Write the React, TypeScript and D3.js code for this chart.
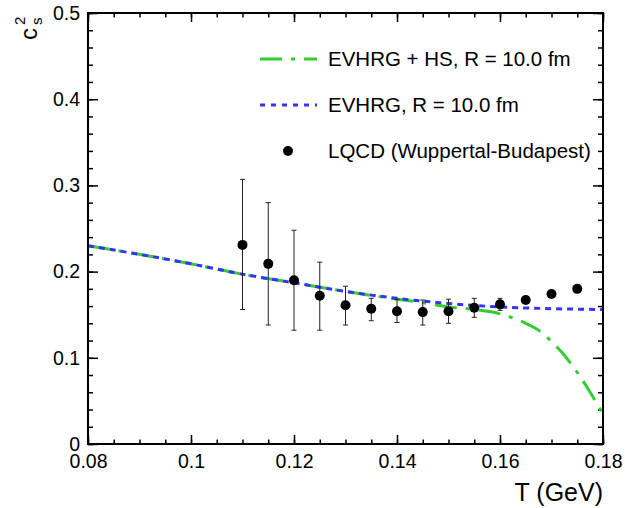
import {useEffect, useRef} from "react";
import * as d3 from "d3";

// LQCD (Wuppertal-Budapest) points
const lqcdT = [0.11, 0.115, 0.12, 0.125, 0.13, 0.135, 0.14, 0.145, 0.15, 0.155, 0.16, 0.165, 0.17, 0.175];
const lqcdCs2 = [0.231, 0.209, 0.19, 0.172, 0.161, 0.157, 0.154, 0.153, 0.154, 0.158, 0.162, 0.167, 0.174, 0.18];
const lqcdHigh = [0.307, 0.28, 0.248, 0.211, 0.183, 0.169, 0.168, 0.167, 0.168, 0.169, 0.169, 0.17, 0.176, 0.181];
const lqcdLow = [0.156, 0.138, 0.132, 0.132, 0.138, 0.143, 0.141, 0.138, 0.14, 0.147, 0.155, 0.164, 0.172, 0.179];

// EVHRG, R = 10.0 fm
const evhrgT = [0.08, 0.09, 0.1, 0.11, 0.12, 0.13, 0.14, 0.15, 0.16, 0.17, 0.18];
const evhrgCs2 = [0.23, 0.22, 0.209, 0.197, 0.187, 0.177, 0.169, 0.163, 0.159, 0.157, 0.156];

// EVHRG + HS, R = 10.0 fm
const hsT = [0.08, 0.09, 0.1, 0.11, 0.12, 0.13, 0.14, 0.145, 0.15, 0.155, 0.16, 0.165, 0.1675, 0.17, 0.1725, 0.175, 0.1775, 0.18];
const hsCs2 = [0.23, 0.22, 0.209, 0.197, 0.187, 0.177, 0.168, 0.164, 0.159, 0.156, 0.151, 0.14, 0.132, 0.119, 0.103, 0.083, 0.06, 0.035];

const xTicks = [0.08, 0.1, 0.12, 0.14, 0.16, 0.18];
const xTickLabels = ["0.08", "0.1", "0.12", "0.14", "0.16", "0.18"];
const yTicks = [0, 0.1, 0.2, 0.3, 0.4, 0.5];
const yTickLabels = ["0", "0.1", "0.2", "0.3", "0.4", "0.5"];

const legendLabels = ["EVHRG + HS, R = 10.0 fm", "EVHRG, R = 10.0 fm", "LQCD (Wuppertal-Budapest)"];

const GREEN = "#33cc33";
const BLUE = "#3333ff";
const FONT = "'Liberation Sans', Arial, Helvetica, sans-serif";

export default function App() {
    const chartRef = useRef<SVGSVGElement>(null);

    useEffect(() => {
        if (!chartRef.current) return;

        const width = 625;
        const height = 508;
        const left = 88, right = 603, top = 13, bottom = 444;

        const svg = d3.select(chartRef.current);
        svg.selectAll("*").remove();
        svg.attr("viewBox", [0, 0, width, height])
            .attr("width", width)
            .attr("height", height)
            .style("font-family", FONT);

        svg.append("rect").attr("width", width).attr("height", height).attr("fill", "white");

        const x = d3.scaleLinear().domain([0.08, 0.18]).range([left, right]);
        const y = d3.scaleLinear().domain([0, 0.5]).range([bottom, top]);

        const xMinor = d3.range(0, 21).map(i => 0.08 + i * 0.005);
        const yMinor = d3.range(0, 26).map(i => i * 0.02);

        // ticks pointing into the frame, on all four sides
        const tickStyle = (g: d3.Selection<SVGGElement, unknown, null, undefined>) => {
            g.select(".domain").remove();
            g.selectAll("line").attr("stroke", "black").attr("stroke-width", 1.5);
            g.selectAll("text").attr("font-size", 19.5).attr("fill", "black").style("font-family", FONT);
        };

        svg.append("g").attr("transform", `translate(0,${bottom})`)
            .call(d3.axisBottom(x).tickValues(xTicks).tickSize(-9).tickPadding(10)
                .tickFormat((_, i) => xTickLabels[i]))
            .call(tickStyle);
        svg.append("g").attr("transform", `translate(0,${bottom})`)
            .call(d3.axisBottom(x).tickValues(xMinor).tickSize(-4.5).tickFormat(() => ""))
            .call(tickStyle);
        svg.append("g").attr("transform", `translate(0,${top})`)
            .call(d3.axisTop(x).tickValues(xTicks).tickSize(-9).tickFormat(() => ""))
            .call(tickStyle);
        svg.append("g").attr("transform", `translate(0,${top})`)
            .call(d3.axisTop(x).tickValues(xMinor).tickSize(-4.5).tickFormat(() => ""))
            .call(tickStyle);

        svg.append("g").attr("transform", `translate(${left},0)`)
            .call(d3.axisLeft(y).tickValues(yTicks).tickSize(-10).tickPadding(8)
                .tickFormat((_, i) => yTickLabels[i]))
            .call(tickStyle);
        svg.append("g").attr("transform", `translate(${left},0)`)
            .call(d3.axisLeft(y).tickValues(yMinor).tickSize(-5).tickFormat(() => ""))
            .call(tickStyle);
        svg.append("g").attr("transform", `translate(${right},0)`)
            .call(d3.axisRight(y).tickValues(yTicks).tickSize(-10).tickFormat(() => ""))
            .call(tickStyle);
        svg.append("g").attr("transform", `translate(${right},0)`)
            .call(d3.axisRight(y).tickValues(yMinor).tickSize(-5).tickFormat(() => ""))
            .call(tickStyle);

        // clip curves to the frame
        svg.append("defs").append("clipPath").attr("id", "frame-clip")
            .append("rect").attr("x", left).attr("y", top)
            .attr("width", right - left).attr("height", bottom - top);

        const line = d3.line<[number, number]>()
            .x(d => x(d[0]))
            .y(d => y(d[1]))
            .curve(d3.curveMonotoneX);

        const curves = svg.append("g").attr("clip-path", "url(#frame-clip)");

        curves.append("path")
            .attr("d", line(hsT.map((t, i) => [t, hsCs2[i]])))
            .attr("fill", "none")
            .attr("stroke", GREEN)
            .attr("stroke-width", 3)
            .attr("stroke-dasharray", "22,9,4,9");

        curves.append("path")
            .attr("d", line(evhrgT.map((t, i) => [t, evhrgCs2[i]])))
            .attr("fill", "none")
            .attr("stroke", BLUE)
            .attr("stroke-width", 3)
            .attr("stroke-dasharray", "6,5");

        // LQCD error bars and markers
        const pts = svg.append("g");
        lqcdT.forEach((t, i) => {
            const cx = x(t);
            pts.append("line")
                .attr("x1", cx).attr("x2", cx)
                .attr("y1", y(lqcdLow[i])).attr("y2", y(lqcdHigh[i]))
                .attr("stroke", "#222").attr("stroke-width", 1);
            [lqcdLow[i], lqcdHigh[i]].forEach(v => {
                pts.append("line")
                    .attr("x1", cx - 2.5).attr("x2", cx + 2.5)
                    .attr("y1", y(v)).attr("y2", y(v))
                    .attr("stroke", "#222").attr("stroke-width", 1);
            });
            pts.append("circle").attr("cx", cx).attr("cy", y(lqcdCs2[i])).attr("r", 5).attr("fill", "black");
        });

        // frame
        svg.append("rect")
            .attr("x", left).attr("y", top)
            .attr("width", right - left).attr("height", bottom - top)
            .attr("fill", "none").attr("stroke", "black").attr("stroke-width", 2);

        // legend
        const legend = svg.append("g");
        const rowY = [59, 105, 151];
        legend.append("line").attr("x1", 260).attr("x2", 317).attr("y1", rowY[0]).attr("y2", rowY[0])
            .attr("stroke", GREEN).attr("stroke-width", 3).attr("stroke-dasharray", "22,9,4,9");
        legend.append("line").attr("x1", 260).attr("x2", 317).attr("y1", rowY[1]).attr("y2", rowY[1])
            .attr("stroke", BLUE).attr("stroke-width", 3).attr("stroke-dasharray", "5,6");
        legend.append("circle").attr("cx", 288).attr("cy", rowY[2]).attr("r", 5).attr("fill", "black");
        legendLabels.forEach((label, i) => {
            legend.append("text")
                .attr("x", 328).attr("y", rowY[i])
                .attr("dy", "0.36em")
                .attr("font-size", 20.5)
                .text(label);
        });

        // axis titles
        svg.append("text")
            .attr("x", right).attr("y", 501)
            .attr("text-anchor", "end")
            .attr("font-size", 25)
            .text("T (GeV)");

        const yTitle = svg.append("g").attr("transform", "translate(37,40) rotate(-90)");
        yTitle.append("text").attr("x", 0).attr("y", 0).attr("font-size", 24).text("c");
        yTitle.append("text").attr("x", 15).attr("y", -12).attr("font-size", 15).text("2");
        yTitle.append("text").attr("x", 15).attr("y", 5).attr("font-size", 15).text("s");
    }, []);

    return (
        <svg ref={chartRef} style={{position: "absolute", left: 0, top: 0}}/>
    );
}
